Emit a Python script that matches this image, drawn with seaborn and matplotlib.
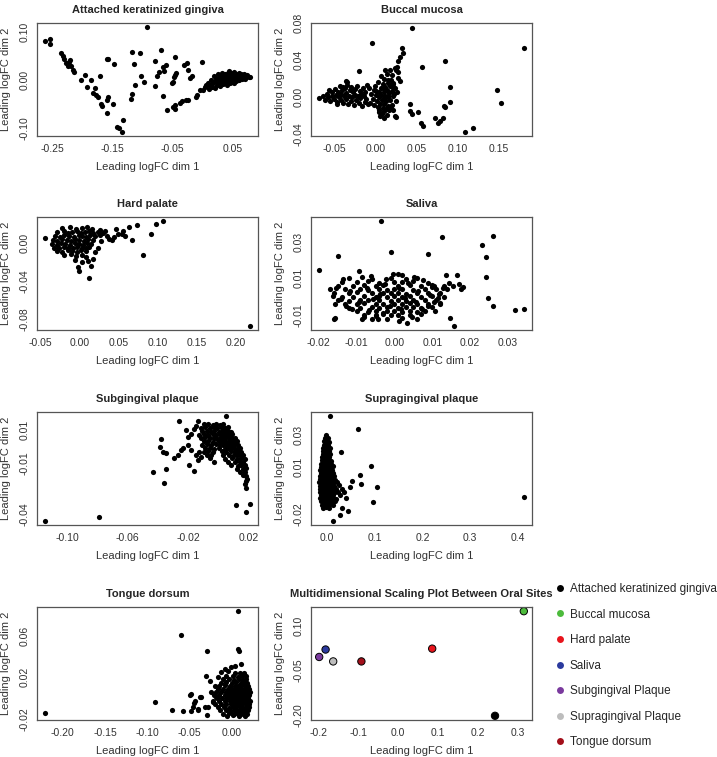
import matplotlib
matplotlib.use("Agg")
import matplotlib.pyplot as plt
import numpy as np
import pandas as pd
import seaborn as sns
from matplotlib.lines import Line2D

# ---- data (x = dim 1, y = dim 2) ----
attached_pts = [
    (-0.0925, 0.110), (-0.262, 0.082), (-0.254, 0.086), (-0.254, 0.075), (-0.235, 0.056),
    (-0.233, 0.050), (-0.230, 0.043), (-0.227, 0.036), (-0.224, 0.030), (-0.222, 0.037),
    (-0.220, 0.041), (-0.219, 0.029), (-0.216, 0.022), (-0.214, 0.018), (-0.203, 0.000),
    (-0.196, 0.011), (-0.193, -0.015), (-0.186, 0.000), (-0.180, -0.017), (-0.183, -0.027),
    (-0.178, -0.030), (-0.175, -0.034), (-0.171, 0.008), (-0.170, -0.049), (-0.167, -0.053),
    (-0.160, 0.043), (-0.158, 0.044), (-0.159, -0.041), (-0.158, -0.035), (-0.159, -0.067),
    (-0.149, -0.049), (-0.147, 0.034), (-0.142, -0.096), (-0.139, -0.099), (-0.134, -0.107),
    (-0.132, -0.083), (-0.119, -0.039), (-0.117, -0.029), (-0.117, 0.058), (-0.115, 0.034),
    (-0.113, -0.010), (-0.105, 0.056), (-0.102, 0.008), (-0.097, -0.004), (-0.079, -0.012),
    (-0.079, 0.040), (-0.076, 0.009), (-0.073, 0.018), (-0.069, 0.063), (-0.067, 0.028),
    (-0.064, 0.020), (-0.062, 0.032), (-0.066, -0.032), (-0.060, -0.062), (-0.052, -0.006),
    (-0.050, -0.003), (-0.048, 0.006), (-0.046, 0.011), (-0.044, 0.015), (-0.046, 0.048),
    (-0.049, -0.055), (-0.047, -0.060), (-0.046, -0.052), (-0.038, -0.048), (-0.035, -0.043),
    (-0.032, 0.032), (-0.026, 0.035), (-0.024, 0.021), (-0.028, -0.041), (-0.024, -0.040),
    (-0.021, 0.004), (-0.018, 0.008), (-0.012, -0.034), (-0.009, -0.030), (-0.005, -0.020),
    (-0.002, 0.037), (0.001, -0.020), (0.004, -0.015), (0.006, -0.010),
    (0.005, -0.012), (0.008, -0.005), (0.010, -0.018), (0.012, -0.010), (0.014, 0.000),
    (0.015, -0.014), (0.017, -0.006), (0.018, 0.008), (0.020, -0.002), (0.020, -0.016),
    (0.022, 0.004), (0.023, -0.009), (0.025, 0.012), (0.025, -0.003), (0.027, 0.001),
    (0.028, -0.012), (0.029, 0.007), (0.030, -0.005), (0.031, 0.015), (0.032, 0.002),
    (0.033, -0.008), (0.034, 0.010), (0.035, -0.002), (0.036, 0.005), (0.037, 0.013),
    (0.038, -0.004), (0.039, 0.001), (0.040, 0.008), (0.040, -0.010), (0.041, 0.016),
    (0.042, 0.003), (0.043, -0.001), (0.044, 0.011), (0.045, 0.005), (0.045, -0.006),
    (0.046, 0.014), (0.047, 0.001), (0.048, 0.008), (0.049, -0.003), (0.050, 0.012),
    (0.050, 0.004), (0.051, 0.017), (0.052, 0.000), (0.053, 0.009), (0.054, 0.005),
    (0.055, 0.013), (0.055, -0.002), (0.056, 0.007), (0.057, 0.002), (0.058, 0.011),
    (0.059, 0.006), (0.060, 0.015), (0.060, 0.000), (0.061, 0.009), (0.062, 0.004),
    (0.063, 0.012), (0.064, 0.007), (0.065, 0.002), (0.066, 0.010), (0.067, 0.005),
    (0.068, 0.013), (0.069, 0.008), (0.070, 0.003), (0.071, 0.009), (0.072, 0.006),
    (0.074, 0.011), (0.076, 0.007), (0.078, 0.006), (0.043, 0.019), (0.052, -0.005),
]

buccal_pts = [
    (0.045, 0.075), (-0.004, 0.058), (0.032, 0.053), (0.033, 0.048), (0.030, 0.043),
    (0.028, 0.039), (0.056, 0.033), (0.180, 0.053), (0.085, 0.039), (0.091, 0.011),
    (0.148, 0.008), (0.152, -0.006), (0.090, -0.005), (0.083, -0.009), (0.085, -0.010),
    (0.042, -0.007), (0.042, -0.015), (0.045, -0.018), (0.052, -0.016), (0.055, -0.028),
    (0.058, -0.031), (0.072, -0.022), (0.076, -0.027), (0.079, -0.025), (0.082, -0.022),
    (0.109, -0.037), (0.119, -0.033), (0.024, -0.020), (0.025, -0.021), (0.019, -0.011),
    (-0.020, 0.028), (-0.036, 0.018), (-0.034, 0.017),
    (0.012, 0.030), (0.018, 0.030), (0.024, 0.032), (0.026, 0.033), (0.025, 0.029),
    (0.027, 0.027), (0.007, 0.023), (0.010, 0.020), (0.016, 0.019), (0.021, 0.016),
    (0.027, 0.021), (0.030, 0.018), (0.020, 0.024), (0.014, 0.025), (0.022, 0.011),
    (-0.008, 0.010), (-0.005, 0.004), (-0.003, -0.002), (-0.006, -0.006), (-0.002, 0.008),
    (0.000, 0.012), (0.001, 0.003), (0.002, -0.004), (0.003, -0.010), (0.004, 0.006),
    (0.005, 0.000), (0.005, -0.014), (0.006, -0.007), (0.007, 0.010), (0.007, 0.003),
    (0.008, -0.003), (0.008, -0.018), (0.009, 0.014), (0.009, -0.011), (0.010, 0.006),
    (0.010, -0.001), (0.011, -0.007), (0.011, -0.015), (0.012, 0.011), (0.012, 0.002),
    (0.013, -0.004), (0.013, -0.012), (0.014, 0.008), (0.014, -0.019), (0.015, 0.016),
    (0.015, 0.000), (0.016, -0.009), (0.017, 0.005), (0.017, -0.014), (0.018, 0.012),
    (0.018, -0.003), (0.019, 0.019), (0.020, 0.007), (0.020, -0.008), (0.021, 0.001),
    (0.022, 0.014), (0.022, -0.013), (0.023, 0.004), (0.024, 0.010), (0.025, -0.004),
    (0.026, 0.006), (0.003, 0.017), (-0.001, -0.008), (0.006, -0.020), (0.010, -0.022),
    (0.001, 0.007), (0.004, -0.016), (0.016, 0.002), (0.011, 0.009),
    (-0.068, -0.001), (-0.063, 0.002), (-0.061, -0.003), (-0.058, 0.004), (-0.057, 0.000),
    (-0.055, -0.004), (-0.053, 0.006), (-0.052, 0.001), (-0.050, -0.002), (-0.049, 0.009),
    (-0.048, 0.003), (-0.046, -0.005), (-0.045, 0.006), (-0.044, 0.000), (-0.043, 0.012),
    (-0.042, -0.003), (-0.041, 0.004), (-0.040, 0.008), (-0.039, -0.006), (-0.038, 0.001),
    (-0.037, 0.010), (-0.036, -0.002), (-0.035, 0.005), (-0.034, 0.013), (-0.033, -0.007),
    (-0.032, 0.002), (-0.031, 0.008), (-0.030, -0.004), (-0.029, 0.011), (-0.028, 0.000),
    (-0.027, 0.006), (-0.026, -0.008), (-0.025, 0.003), (-0.024, 0.009), (-0.023, -0.003),
    (-0.022, 0.012), (-0.021, 0.001), (-0.020, -0.006), (-0.019, 0.007), (-0.018, -0.001),
    (-0.017, 0.004), (-0.016, -0.009), (-0.015, 0.010), (-0.014, 0.002), (-0.013, -0.005),
    (-0.012, 0.006), (-0.011, -0.002), (-0.010, 0.013), (-0.009, -0.007), (-0.056, 0.008),
    (-0.047, -0.007), (-0.039, 0.011),
]

hard_palate_pts = [
    (-0.0436, 0.005), (0.218, -0.087), (0.107, 0.0226), (0.098, 0.020), (0.074, 0.019),
    (0.064, 0.016), (0.047, 0.0146), (0.092, 0.0097), (0.068, 0.0028), (0.081, -0.013),
    (0.056, 0.012), (0.054, 0.009), (0.058, 0.0075), (0.035, 0.0066), (0.038, 0.0042),
    (0.042, 0.0024), (0.044, 0.0059), (0.049, 0.0087), (0.0235, -0.005), (0.028, 0.002),
    (0.013, -0.0365), (0.000, -0.030), (-0.002, -0.025), (0.015, -0.024), (0.011, -0.019),
    (0.017, -0.017), (0.030, 0.010), (0.033, 0.012), (0.026, 0.013), (0.004, -0.020),
    (-0.005, -0.018), (0.008, -0.015), (0.020, -0.010),
    (-0.022, 0.015), (-0.012, 0.016), (-0.004, 0.014), (0.004, 0.015), (0.010, 0.016), (0.016, 0.014),
    (-0.028, 0.011), (-0.020, 0.012), (-0.015, 0.010), (-0.009, 0.011), (-0.003, 0.012),
    (0.002, 0.010), (0.007, 0.011), (0.012, 0.012), (0.018, 0.010), (0.024, 0.011),
    (-0.031, 0.007), (-0.025, 0.006), (-0.019, 0.008), (-0.013, 0.007), (-0.007, 0.006),
    (-0.001, 0.008), (0.004, 0.007), (0.009, 0.006), (0.014, 0.008), (0.020, 0.007), (0.026, 0.008),
    (-0.034, 0.003), (-0.028, 0.002), (-0.022, 0.004), (-0.016, 0.003), (-0.011, 0.002),
    (-0.005, 0.004), (0.000, 0.003), (0.006, 0.002), (0.011, 0.004), (0.017, 0.003),
    (-0.035, -0.001), (-0.029, -0.002), (-0.023, 0.000), (-0.018, -0.001), (-0.012, -0.002),
    (-0.006, 0.000), (-0.001, -0.001), (0.005, -0.002), (0.010, 0.000), (0.015, -0.001),
    (-0.032, -0.005), (-0.026, -0.006), (-0.020, -0.004), (-0.014, -0.005), (-0.008, -0.006),
    (-0.003, -0.004), (0.003, -0.005), (0.008, -0.006), (0.013, -0.004),
    (-0.029, -0.009), (-0.022, -0.010), (-0.015, -0.008), (-0.009, -0.009), (-0.003, -0.010),
    (0.002, -0.008), (0.008, -0.009),
    (-0.020, -0.013), (-0.011, -0.012), (-0.004, -0.014), (0.003, -0.013),
]

saliva_pts = [
    (-0.0035, 0.0413), (0.0126, 0.0327), (0.026, 0.0331), (0.0232, 0.028), (0.0241, 0.0218),
    (-0.0009, 0.0244), (0.009, 0.0231), (-0.0094, 0.014), (-0.0003, 0.0125), (0.001, 0.0125),
    (0.0135, 0.0118), (0.0165, 0.0116), (0.0241, 0.0107), (0.0145, 0.0075), (0.0155, 0.006),
    (0.017, 0.007), (0.0175, 0.004), (0.018, 0.005), (0.0247, -0.0009), (0.026, -0.0051),
    (0.032, -0.0073), (0.0342, -0.007), (0.0146, -0.0118), (0.0157, -0.016), (0.0033, -0.0145),
    (-0.0044, -0.0124), (-0.008, -0.011), (0.012, -0.0035), (0.0115, -0.001), (0.0105, -0.003),
    (0.010, 0.005), (0.0105, 0.006), (-0.0199, 0.0144), (-0.0149, 0.0222), (-0.0157, -0.0115),
    (-0.0161, -0.0124), (-0.0171, 0.004), (-0.0162, 0.0004), (-0.0157, -0.0042),
    (-0.012, 0.010), (-0.006, 0.0095), (-0.001, 0.0102), (0.003, 0.0098), (0.006, 0.0104),
    (-0.014, 0.008), (-0.010, 0.0078), (-0.007, 0.0083), (-0.004, 0.0077), (0.000, 0.0081),
    (0.002, 0.0079), (0.005, 0.0084), (0.009, 0.0077),
    (-0.015, 0.006), (-0.011, 0.0058), (-0.008, 0.0063), (-0.005, 0.0057), (-0.003, 0.0061),
    (0.001, 0.0059), (0.004, 0.0062), (0.007, 0.0056), (0.010, 0.0061), (0.013, 0.0058),
    (-0.013, 0.004), (-0.009, 0.0042), (-0.007, 0.0037), (-0.004, 0.0041), (-0.002, 0.0038),
    (0.000, 0.0043), (0.002, 0.0039), (0.005, 0.0036), (0.008, 0.0042), (0.011, 0.0039),
    (0.014, 0.0041),
    (-0.016, 0.002), (-0.012, 0.0018), (-0.010, 0.0023), (-0.006, 0.0017), (-0.003, 0.0021),
    (-0.001, 0.0019), (0.001, 0.0022), (0.003, 0.0016), (0.006, 0.0021), (0.009, 0.0018),
    (0.012, 0.0022),
    (-0.014, 0.000), (-0.011, -0.0003), (-0.008, 0.0002), (-0.005, -0.0002), (-0.004, 0.0003),
    (-0.002, -0.0001), (0.000, 0.0002), (0.002, -0.0003), (0.004, 0.0001), (0.007, -0.0002),
    (0.010, 0.0003), (0.013, -0.0001),
    (-0.015, -0.002), (-0.012, -0.0022), (-0.009, -0.0017), (-0.007, -0.0021), (-0.004, -0.0018),
    (-0.001, -0.0023), (0.001, -0.0019), (0.003, -0.0022), (0.005, -0.0017), (0.008, -0.0021),
    (0.011, -0.0018),
    (-0.013, -0.004), (-0.010, -0.0042), (-0.008, -0.0037), (-0.005, -0.0041), (-0.003, -0.0038),
    (0.000, -0.0043), (0.002, -0.0039), (0.004, -0.0036), (0.006, -0.0042), (0.009, -0.0039),
    (0.012, -0.0041),
    (-0.012, -0.006), (-0.009, -0.0062), (-0.006, -0.0057), (-0.004, -0.0061), (-0.002, -0.0058),
    (0.001, -0.0063), (0.003, -0.0059), (0.005, -0.0056), (0.007, -0.0061), (0.010, -0.0058),
    (-0.010, -0.008), (-0.007, -0.0083), (-0.005, -0.0078), (-0.002, -0.0081), (0.000, -0.0077),
    (0.002, -0.0082), (0.004, -0.0079), (0.006, -0.0084), (0.008, -0.0078),
    (-0.008, -0.010), (-0.005, -0.0102), (-0.003, -0.0097), (-0.001, -0.0103), (0.001, -0.0099),
    (0.004, -0.0101), (0.007, -0.0098),
    (-0.006, -0.012), (-0.002, -0.0122), (0.002, -0.0118), (0.006, -0.0121),
    (-0.0135, 0.0095), (-0.0085, 0.0105), (-0.0025, 0.0068), (0.0035, 0.0072), (0.0075, 0.0092),
    (-0.0118, 0.0029), (-0.0072, 0.0049), (-0.0038, 0.0012), (0.0013, 0.0047), (0.0062, 0.0031),
    (0.0093, 0.0011), (-0.0142, -0.0011), (-0.0095, -0.0031), (-0.0058, -0.0011), (-0.0012, -0.0049),
    (0.0028, -0.0009), (0.0057, -0.0031), (0.0089, -0.0052), (-0.0112, -0.0069), (-0.0068, -0.0071),
    (-0.0031, -0.0089), (0.0018, -0.0069), (0.0047, -0.0109), (0.0072, -0.0069), (-0.0087, -0.0121),
    (-0.0049, -0.0105), (0.0011, -0.0133), (0.0108, -0.0078), (0.0118, 0.0012), (0.0128, 0.0049),
    (-0.0155, 0.0049), (-0.0129, -0.0052), (-0.0022, 0.0098), (0.0021, 0.0121), (0.0052, 0.0109),
    (-0.0063, 0.0115),
]

subgingival_pts = [
    (-0.1145, -0.0436), (-0.0793, -0.0411), (-0.0437, -0.0152), (-0.036, -0.0217),
    (-0.0345, -0.0133), (-0.0382, 0.0042), (-0.039, -0.0005), (-0.037, -0.003),
    (-0.035, -0.004), (-0.0298, -0.0067), (-0.0262, 0.0149), (0.0046, 0.0178),
    (-0.0166, -0.0145), (-0.0196, -0.0106), (0.0112, -0.0343), (0.0205, -0.0337),
    (0.0183, -0.0382), (0.0178, -0.0246), (0.017, -0.022), (0.0185, -0.019),
    (-0.0217, 0.0094), (-0.0206, 0.0055), (-0.0184, 0.0075), (-0.0162, 0.0104),
    (-0.0151, 0.0123), (-0.014, 0.0152), (-0.0239, -0.0009), (-0.025, -0.0022),
    (-0.0206, 0.0007), (-0.0272, -0.0051), (-0.0184, -0.0020), (-0.0151, -0.0049),
    (-0.0129, -0.003), (-0.0118, -0.006), (-0.014, -0.008),
    (-0.010, 0.013), (-0.007, 0.0134), (-0.004, 0.0128), (-0.002, 0.0133), (0.001, 0.0129), (0.003, 0.0132),
    (-0.012, 0.011), (-0.009, 0.0113), (-0.006, 0.0108), (-0.003, 0.0112), (-0.001, 0.0107),
    (0.002, 0.0111), (0.004, 0.0109), (0.006, 0.0112),
    (-0.011, 0.009), (-0.008, 0.0093), (-0.005, 0.0088), (-0.003, 0.0092), (0.000, 0.0087),
    (0.002, 0.0091), (0.004, 0.0089), (0.006, 0.0093), (0.008, 0.0088),
    (-0.013, 0.007), (-0.010, 0.0073), (-0.007, 0.0068), (-0.004, 0.0072), (-0.002, 0.0067),
    (0.001, 0.0071), (0.003, 0.0069), (0.005, 0.0073), (0.007, 0.0068), (0.009, 0.0071),
    (-0.012, 0.005), (-0.009, 0.0053), (-0.006, 0.0048), (-0.003, 0.0052), (-0.001, 0.0047),
    (0.001, 0.0051), (0.003, 0.0049), (0.005, 0.0053), (0.007, 0.0048), (0.009, 0.0052),
    (0.011, 0.0049),
    (-0.010, 0.003), (-0.007, 0.0033), (-0.004, 0.0028), (0.000, 0.0032), (0.002, 0.0027),
    (0.004, 0.0031), (0.006, 0.0029), (0.008, 0.0033), (0.010, 0.0028), (0.012, 0.0031),
    (-0.011, 0.001), (-0.008, 0.0013), (-0.005, 0.0008), (-0.002, 0.0012), (0.001, 0.0007),
    (0.003, 0.0011), (0.005, 0.0009), (0.007, 0.0013), (0.009, 0.0008), (0.011, 0.0012),
    (0.013, 0.0009),
    (-0.009, -0.001), (-0.006, -0.0007), (-0.003, -0.0012), (0.000, -0.0008), (0.004, -0.0013),
    (0.006, -0.0009), (0.008, -0.0011), (0.010, -0.0007), (0.012, -0.0012), (0.014, -0.0009),
    (-0.010, -0.003), (-0.007, -0.0027), (-0.004, -0.0032), (0.002, -0.0028), (0.005, -0.0033),
    (0.008, -0.0029), (0.011, -0.0031), (0.013, -0.0027), (0.015, -0.0032),
    (-0.008, -0.005), (-0.005, -0.0047), (0.003, -0.0052), (0.007, -0.0048), (0.010, -0.0051),
    (0.012, -0.0047), (0.014, -0.0052), (0.016, -0.0049),
    (-0.006, -0.007), (0.004, -0.0072), (0.009, -0.0068), (0.012, -0.0071), (0.015, -0.0069),
    (0.017, -0.0073),
    (-0.003, -0.009), (0.006, -0.0092), (0.011, -0.0088), (0.014, -0.0091), (0.016, -0.0089),
    (0.008, -0.011), (0.013, -0.0112), (0.015, -0.0108), (0.017, -0.0111),
    (0.012, -0.013), (0.016, -0.0132), (0.018, -0.0128),
    (0.014, -0.015), (0.017, -0.0152), (0.016, -0.017), (0.018, -0.0172), (0.018, -0.020),
]

supragingival_pts = [
    (0.0057, 0.042), (0.064, 0.0338), (0.0285, 0.0195), (0.0915, 0.0104), (0.0694, 0.0047),
    (0.0715, -0.0009), (0.1036, -0.0026), (0.0964, -0.0121), (0.413, -0.0089), (0.052, 0.001),
    (0.043, -0.018), (0.0128, -0.0243), (0.026, -0.0205), (0.035, -0.006), (0.040, -0.010),
    (0.047, -0.003), (0.030, -0.016),
    (-0.002, 0.030), (-0.004, 0.028), (0.001, 0.0282),
    (-0.006, 0.026), (-0.001, 0.0262), (0.003, 0.0258),
    (-0.007, 0.024), (-0.002, 0.0242), (0.002, 0.0238),
    (-0.008, 0.022), (-0.003, 0.0222), (0.001, 0.0218), (0.005, 0.0221),
    (-0.009, 0.020), (-0.004, 0.0202), (0.000, 0.0198), (0.004, 0.0201),
    (-0.010, 0.018), (-0.005, 0.0182), (0.000, 0.0178), (0.006, 0.0181),
    (-0.011, 0.016), (-0.006, 0.0162), (-0.001, 0.0158), (0.004, 0.0161),
    (-0.012, 0.014), (-0.007, 0.0142), (-0.002, 0.0138), (0.003, 0.0141), (0.008, 0.0139),
    (-0.013, 0.012), (-0.008, 0.0122), (-0.003, 0.0118), (0.002, 0.0121), (0.007, 0.0119),
    (-0.014, 0.010), (-0.009, 0.0102), (-0.004, 0.0098), (0.001, 0.0101), (0.006, 0.0099), (0.011, 0.0102),
    (-0.015, 0.008), (-0.010, 0.0082), (-0.005, 0.0078), (0.000, 0.0081), (0.005, 0.0079), (0.010, 0.0082),
    (-0.014, 0.006), (-0.009, 0.0062), (-0.004, 0.0058), (0.001, 0.0061), (0.006, 0.0059), (0.012, 0.0062),
    (-0.016, 0.004), (-0.011, 0.0042), (-0.006, 0.0038), (-0.001, 0.0041), (0.004, 0.0039),
    (0.009, 0.0042), (0.014, 0.0038),
    (-0.015, 0.002), (-0.010, 0.0022), (-0.005, 0.0018), (0.000, 0.0021), (0.005, 0.0019),
    (0.010, 0.0022), (0.016, 0.0018),
    (-0.017, 0.000), (-0.012, 0.0002), (-0.007, -0.0002), (-0.002, 0.0001), (0.003, -0.0001),
    (0.008, 0.0002), (0.013, -0.0002), (0.020, 0.0001),
    (-0.016, -0.002), (-0.011, -0.0018), (-0.006, -0.0022), (-0.001, -0.0019), (0.004, -0.0021),
    (0.009, -0.0018), (0.015, -0.0022), (0.024, -0.0019),
    (-0.015, -0.004), (-0.010, -0.0038), (-0.005, -0.0042), (0.000, -0.0039), (0.005, -0.0041),
    (0.011, -0.0038), (0.018, -0.0042), (0.030, -0.0039),
    (-0.016, -0.006), (-0.011, -0.0058), (-0.006, -0.0062), (-0.001, -0.0059), (0.004, -0.0061),
    (0.010, -0.0058), (0.016, -0.0062), (0.022, -0.0059),
    (-0.014, -0.008), (-0.009, -0.0078), (-0.004, -0.0082), (0.001, -0.0079), (0.007, -0.0081),
    (0.013, -0.0078), (0.026, -0.0082),
    (-0.015, -0.010), (-0.010, -0.0098), (-0.005, -0.0102), (0.000, -0.0099), (0.006, -0.0101),
    (0.012, -0.0098), (0.019, -0.0102),
    (-0.013, -0.012), (-0.008, -0.0118), (-0.003, -0.0122), (0.003, -0.0119), (0.009, -0.0121),
    (0.016, -0.0118),
    (-0.011, -0.014), (-0.006, -0.0138), (-0.001, -0.0142), (0.005, -0.0139), (0.012, -0.0141),
    (-0.008, -0.016), (-0.002, -0.0158), (0.004, -0.0162),
]

tongue_pts = [
    (0.008, 0.084), (-0.0595, 0.0606), (-0.029, 0.0456), (0.0079, 0.0476), (0.0095, 0.0456),
    (-0.221, -0.0146), (-0.090, -0.0034), (-0.0706, -0.0114), (-0.0575, -0.013),
    (-0.0496, 0.0034), (-0.0444, -0.0046), (-0.0365, 0.0014), (-0.048, -0.013),
    (-0.039, -0.011), (-0.029, -0.016),
    (-0.0476, 0.0041), (-0.0429, -0.0024), (-0.0377, 0.0008), (-0.0317, -0.0088),
    (-0.0456, -0.0088), (-0.0397, -0.012), (-0.0278, -0.0088), (-0.0218, -0.004),
    (-0.0179, 0.0008), (-0.0238, 0.0056), (-0.0198, 0.012), (-0.0258, 0.0168),
    (-0.0159, 0.020), (-0.0119, 0.0248), (-0.0079, 0.028), (-0.004, 0.0264),
    (0.000, 0.030), (0.004, 0.0312), (0.0119, 0.0329), (-0.0298, 0.0216),
    (0.004, 0.024), (0.010, 0.0243), (0.015, 0.0238),
    (-0.006, 0.021), (0.002, 0.0212), (0.008, 0.0208), (0.013, 0.0211), (0.017, 0.0209),
    (-0.010, 0.018), (-0.003, 0.0182), (0.003, 0.0178), (0.009, 0.0181), (0.014, 0.0179), (0.018, 0.0182),
    (-0.012, 0.015), (-0.006, 0.0152), (0.001, 0.0148), (0.006, 0.0151), (0.011, 0.0149),
    (0.015, 0.0152), (0.019, 0.0148),
    (-0.014, 0.012), (-0.008, 0.0122), (-0.002, 0.0118), (0.004, 0.0121), (0.008, 0.0119),
    (0.012, 0.0122), (0.016, 0.0118), (0.020, 0.0121),
    (-0.016, 0.009), (-0.010, 0.0092), (-0.004, 0.0088), (0.001, 0.0091), (0.005, 0.0089),
    (0.009, 0.0092), (0.013, 0.0088), (0.017, 0.0091), (0.021, 0.0089),
    (-0.018, 0.006), (-0.012, 0.0062), (-0.006, 0.0058), (-0.001, 0.0061), (0.003, 0.0059),
    (0.007, 0.0062), (0.011, 0.0058), (0.015, 0.0061), (0.019, 0.0059), (0.022, 0.0062),
    (-0.020, 0.003), (-0.014, 0.0032), (-0.008, 0.0028), (-0.003, 0.0031), (0.002, 0.0029),
    (0.006, 0.0032), (0.010, 0.0028), (0.014, 0.0031), (0.018, 0.0029), (0.021, 0.0032),
    (-0.017, 0.000), (-0.011, 0.0002), (-0.005, -0.0002), (0.000, 0.0001), (0.004, -0.0001),
    (0.008, 0.0002), (0.012, -0.0002), (0.016, 0.0001), (0.020, -0.0001),
    (-0.022, -0.003), (-0.014, -0.0028), (-0.008, -0.0032), (-0.002, -0.0029), (0.003, -0.0031),
    (0.007, -0.0028), (0.011, -0.0032), (0.015, -0.0029), (0.019, -0.0031), (0.022, -0.0028),
    (-0.019, -0.006), (-0.012, -0.0058), (-0.006, -0.0062), (0.000, -0.0059), (0.005, -0.0061),
    (0.009, -0.0058), (0.013, -0.0062), (0.017, -0.0059), (0.021, -0.0061),
    (-0.016, -0.009), (-0.009, -0.0088), (-0.003, -0.0092), (0.002, -0.0089), (0.006, -0.0091),
    (0.010, -0.0088), (0.014, -0.0092), (0.018, -0.0089), (0.021, -0.0091),
    (-0.013, -0.012), (-0.006, -0.0118), (0.000, -0.0122), (0.004, -0.0119), (0.008, -0.0121),
    (0.012, -0.0118), (0.016, -0.0122), (0.020, -0.0119),
    (-0.010, -0.015), (-0.003, -0.0148), (0.003, -0.0152), (0.007, -0.0149), (0.011, -0.0151),
    (0.015, -0.0148), (0.019, -0.0152),
    (-0.005, -0.017), (0.002, -0.0168), (0.009, -0.0172), (0.016, -0.0169),
]

mds_sites = ["Attached keratinized gingiva", "Buccal mucosa", "Hard palate", "Saliva",
             "Subgingival Plaque", "Supragingival Plaque", "Tongue dorsum"]
mds_dim1 = [0.242, 0.314, 0.085, -0.1815, -0.1975, -0.1625, -0.092]
mds_dim2 = [-0.202, 0.150, 0.024, 0.021, -0.004, -0.019, -0.019]
mds_colors = ["#000000", "#4cbb3c", "#e8141c", "#2b3a9e", "#7a3a9e", "#bdbdbd", "#a30f1a"]

# ---- layout ----
W, H = 717, 757
sns.set_style("white")
plt.rcParams["font.family"] = ["Liberation Sans", "DejaVu Sans"]
fig = plt.figure(figsize=(W / 100, H / 100), dpi=100)

TITLE_FONT = ["Liberation Sans Narrow", "Liberation Sans", "DejaVu Sans"]
col_x = [37, 311]
row_y = [23, 217, 412, 607]
box_w, box_h = 221, 113


def make_ax(col, row):
    x0, y0 = col_x[col], row_y[row]
    return fig.add_axes([x0 / W, 1 - (y0 + box_h) / H, box_w / W, box_h / H])


def style_ax(ax, title, xticks, xlab, yticks, ylab, fmt_x="{:.2f}", fmt_y="{:.2f}"):
    # R-style limits: data range padded by 4% on each side
    xs = np.concatenate([c.get_offsets()[:, 0] for c in ax.collections])
    ys = np.concatenate([c.get_offsets()[:, 1] for c in ax.collections])
    sx = xs.max() - xs.min()
    sy = ys.max() - ys.min()
    ax.set_xlim(xs.min() - 0.04 * sx, xs.max() + 0.04 * sx)
    ax.set_ylim(ys.min() - 0.04 * sy, ys.max() + 0.04 * sy)
    ax.set_xticks(xticks)
    ax.set_xticklabels([fmt_x.format(v) if v in xlab else "" for v in xticks])
    ax.set_yticks(yticks)
    ax.set_yticklabels([fmt_y.format(v) if v in ylab else "" for v in yticks],
                       rotation=90, va="center")
    ax.tick_params(direction="out", length=4, width=0.8, color="#555555",
                   labelsize=7.5, labelcolor="#333333", pad=1.5)
    for sp in ax.spines.values():
        sp.set_color("#555555")
        sp.set_linewidth(0.9)
    ax.set_xlabel("Leading logFC dim 1", fontsize=8, color="#333333", labelpad=6)
    ax.set_ylabel("Leading logFC dim 2", fontsize=8, color="#333333", labelpad=6)
    ax.set_title(title, fontsize=8, fontweight="bold", family=TITLE_FONT, pad=7)


def panel(col, row, pts, title, xticks, xlab, yticks, ylab, fmt_x="{:.2f}"):
    ax = make_ax(col, row)
    df = pd.DataFrame(pts, columns=["dim1", "dim2"])
    sns.scatterplot(data=df, x="dim1", y="dim2", ax=ax, color="black", s=14, linewidth=0)
    style_ax(ax, title, xticks, xlab, yticks, ylab, fmt_x=fmt_x)
    return ax


r = lambda v: [round(x, 2) for x in v]

panel(0, 0, attached_pts, "Attached keratinized gingiva",
      r([-0.25, -0.20, -0.15, -0.10, -0.05, 0.0, 0.05]), r([-0.25, -0.15, -0.05, 0.05]),
      r([-0.10, -0.05, 0.0, 0.05, 0.10]), r([-0.10, 0.0, 0.10]))
panel(1, 0, buccal_pts, "Buccal mucosa",
      r([-0.05, 0.0, 0.05, 0.10, 0.15]), r([-0.05, 0.0, 0.05, 0.10, 0.15]),
      r([-0.04, -0.02, 0.0, 0.02, 0.04, 0.06, 0.08]), r([-0.04, 0.0, 0.04, 0.08]))
panel(0, 1, hard_palate_pts, "Hard palate",
      r([-0.05, 0.0, 0.05, 0.10, 0.15, 0.20]), r([-0.05, 0.0, 0.05, 0.10, 0.15, 0.20]),
      r([-0.08, -0.06, -0.04, -0.02, 0.0, 0.02]), r([-0.08, -0.04, 0.0]))
panel(1, 1, saliva_pts, "Saliva",
      r([-0.02, -0.01, 0.0, 0.01, 0.02, 0.03]), r([-0.02, -0.01, 0.0, 0.01, 0.02, 0.03]),
      r([-0.01, 0.0, 0.01, 0.02, 0.03, 0.04]), r([-0.01, 0.01, 0.03]))
panel(0, 2, subgingival_pts, "Subgingival plaque",
      r([-0.10, -0.08, -0.06, -0.04, -0.02, 0.0, 0.02]), r([-0.10, -0.06, -0.02, 0.02]),
      r([-0.04, -0.03, -0.02, -0.01, 0.0, 0.01, 0.02]), r([-0.04, -0.01, 0.01]))
panel(1, 2, supragingival_pts, "Supragingival plaque",
      r([0.0, 0.1, 0.2, 0.3, 0.4]), r([0.0, 0.1, 0.2, 0.3, 0.4]),
      r([-0.02, -0.01, 0.0, 0.01, 0.02, 0.03, 0.04]), r([-0.02, 0.01, 0.03]), fmt_x="{:.1f}")
panel(0, 3, tongue_pts, "Tongue dorsum",
      r([-0.20, -0.15, -0.10, -0.05, 0.0]), r([-0.20, -0.15, -0.10, -0.05, 0.0]),
      r([-0.02, 0.0, 0.02, 0.04, 0.06, 0.08]), r([-0.02, 0.02, 0.06]))

# MDS panel between sites
ax = make_ax(1, 3)
mds = pd.DataFrame({"site": mds_sites, "dim1": mds_dim1, "dim2": mds_dim2})
sns.scatterplot(data=mds, x="dim1", y="dim2", hue="site", ax=ax,
                palette=dict(zip(mds_sites, mds_colors)), s=28,
                edgecolor="black", linewidth=0.7, legend=False)
style_ax(ax, "Multidimensional Scaling Plot Between Oral Sites",
         r([-0.2, -0.1, 0.0, 0.1, 0.2, 0.3]), r([-0.2, -0.1, 0.0, 0.1, 0.2, 0.3]),
         r([-0.20, -0.15, -0.10, -0.05, 0.0, 0.05, 0.10, 0.15]), r([-0.20, -0.05, 0.10]),
         fmt_x="{:.1f}")

handles = [Line2D([], [], marker="o", linestyle="", markersize=5,
                  markerfacecolor=c, markeredgewidth=0) for c in mds_colors]
ax.legend(handles, mds_sites, loc="upper left",
          bbox_to_anchor=(555 / W, 1 - 583 / H), bbox_transform=fig.transFigure,
          frameon=False, fontsize=8.5, handlelength=0.8, handletextpad=0.45,
          labelspacing=1.15, borderpad=0, borderaxespad=0)

fig.savefig("out.png", dpi=100, facecolor="white")
